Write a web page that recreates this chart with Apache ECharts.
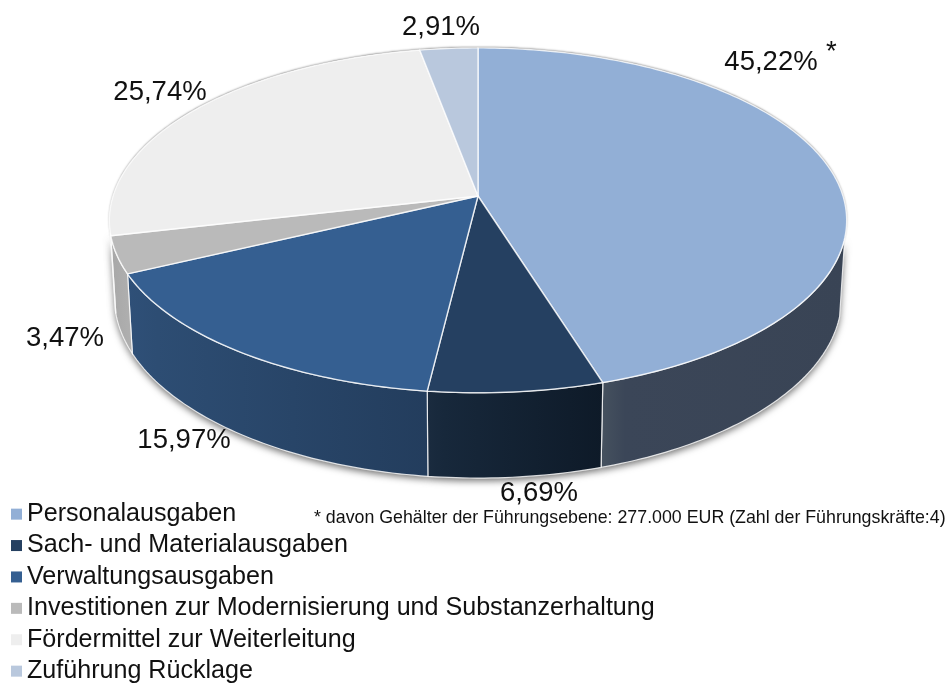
<!DOCTYPE html>
<html>
<head>
<meta charset="utf-8">
<style>
    html, body { margin: 0; padding: 0; background: #fff; }
    #chart { width: 949px; height: 683px; }
</style>
</head>
<body>
<div id="chart"></div>
<script src="https://cdn.jsdelivr.net/npm/echarts@6/dist/echarts.min.js"></script>
<script>
const categories = [
    'Personalausgaben',
    'Sach- und Materialausgaben',
    'Verwaltungsausgaben',
    'Investitionen zur Modernisierung und Substanzerhaltung',
    'Fördermittel zur Weiterleitung',
    'Zuführung Rücklage'
]
const values = [45.22, 6.69, 15.97, 3.47, 25.74, 2.91]
const footnote = '* davon Gehälter der Führungsebene: 277.000 EUR (Zahl der Führungskräfte:4)'

const topColors = ['#92afd6', '#254061', '#355f91', '#bababa', '#eeeeee', '#b9c8dd']
const wallColors = [
    ['#46525f', '#3b4658', '#394455'],
    ['#1a2b3f', '#17283b', '#0e1a28'],
    ['#2f5078', '#2d4d73', '#233d5d'],
    ['#a6a6a6', '#a8a8a8', '#b0b0b0'],
    ['#d0d0d0', '#d0d0d0', '#d0d0d0'],
    ['#a0aec0', '#a0aec0', '#a0aec0']
]
const labelPos = [[771, 62], [539, 493], [184, 440], [65, 338], [160, 92], [441, 27]]

// perspective of the two pie planes, fitted to the picture
const topPlane = {cx: 478, cy: 196, a: 365, b: 169, k: 0.141}
const bottomPlane = {cx: 478, cy: 272, a: 360, b: 177, k: 0.141}
// only this angle range of the side wall faces the viewer
const wallFrom = 104
const wallTo = 258

const total = values.reduce((s, v) => s + v, 0)

function project(plane, deg) {
    const rad = deg * Math.PI / 180
    const u = Math.sin(rad)
    const d = -Math.cos(rad)
    const w = 1 - plane.k * d
    return [plane.cx + plane.a * u / w, plane.cy + plane.b * d / w]
}

function arc(plane, from, to) {
    const pts = []
    const n = Math.max(2, Math.ceil(to - from))
    for (let i = 0; i <= n; i++) {
        pts.push(project(plane, from + (to - from) * i / n))
    }
    return pts
}

const edge = 'rgba(255,255,255,0.8)'

function wallElements(start, end, idx) {
    const from = Math.max(start, wallFrom)
    const to = Math.min(end, wallTo)
    if (to <= from) {
        return []
    }
    const wall = arc(topPlane, from, to).concat(arc(bottomPlane, from, to).reverse())
    return [
        {
            type: 'polygon', z2: 1, shape: {points: wall},
            style: {fill: '#999', shadowBlur: 7, shadowColor: 'rgba(0,0,0,0.55)', shadowOffsetY: 3}
        },
        {
            type: 'polygon', z2: 2, shape: {points: wall},
            style: {
                fill: {
                    type: 'linear', x: 0, y: 0, x2: 1, y2: 0,
                    colorStops: [
                        {offset: 0, color: wallColors[idx][0]},
                        {offset: 0.1, color: wallColors[idx][1]},
                        {offset: 1, color: wallColors[idx][2]}
                    ]
                },
                stroke: edge, lineWidth: 1.2
            }
        }
    ]
}

function sliceSeries(name, idx) {
    const before = values.slice(0, idx).reduce((s, v) => s + v, 0)
    const from = before / total * 360
    const to = (before + values[idx]) / total * 360
    return {
        type: 'custom',
        name: name,
        coordinateSystem: 'none',
        itemStyle: {color: topColors[idx]},
        data: [[from, to]],
        silent: true,
        renderItem: (params, api) => {
            const start = api.value(0)
            const end = api.value(1)
            const face = [[topPlane.cx, topPlane.cy]].concat(arc(topPlane, start, end))
            const text = values[idx].toFixed(2).replace('.', ',') + '%'
            return {
                type: 'group',
                children: wallElements(start, end, idx).concat([
                    {
                        type: 'polygon', z2: 1, shape: {points: face},
                        style: {fill: '#ccc', shadowBlur: 2, shadowColor: 'rgba(0,0,0,0.5)', shadowOffsetY: -1}
                    },
                    {
                        type: 'polygon', z2: 3, shape: {points: face},
                        style: {fill: topColors[idx], stroke: edge, lineWidth: 1.4, lineJoin: 'round'}
                    },
                    {
                        type: 'text', z2: 5,
                        x: labelPos[idx][0], y: labelPos[idx][1],
                        style: {
                            text: text,
                            fill: '#111',
                            font: '27.5px "Liberation Sans", Arial, sans-serif',
                            align: 'center',
                            verticalAlign: 'middle'
                        }
                    }
                ])
            }
        }
    }
}

const chart = echarts.init(document.getElementById('chart'), null, {renderer: 'canvas'})
chart.setOption({
    animation: false,
    backgroundColor: '#fff',
    color: topColors,
    legend: {
        orient: 'vertical',
        left: 11,
        top: 500,
        height: 400,
        padding: 0,
        itemWidth: 11,
        itemHeight: 11,
        itemGap: 3.1,
        selectedMode: false,
        icon: 'rect',
        data: categories,
        textStyle: {
            color: '#111',
            fontFamily: '"Liberation Sans", Arial, sans-serif',
            fontSize: 25.1,
            lineHeight: 28.3
        }
    },
    graphic: [
        {
            type: 'text', left: 314, top: 509,
            style: {text: footnote, fill: '#111', font: '17.8px "Liberation Sans", Arial, sans-serif'}
        },
        {
            type: 'text', left: 826, top: 38,
            style: {text: '*', fill: '#111', font: '27.5px "Liberation Sans", Arial, sans-serif'}
        }
    ],
    series: categories.map(sliceSeries)
})
</script>
</body>
</html>
